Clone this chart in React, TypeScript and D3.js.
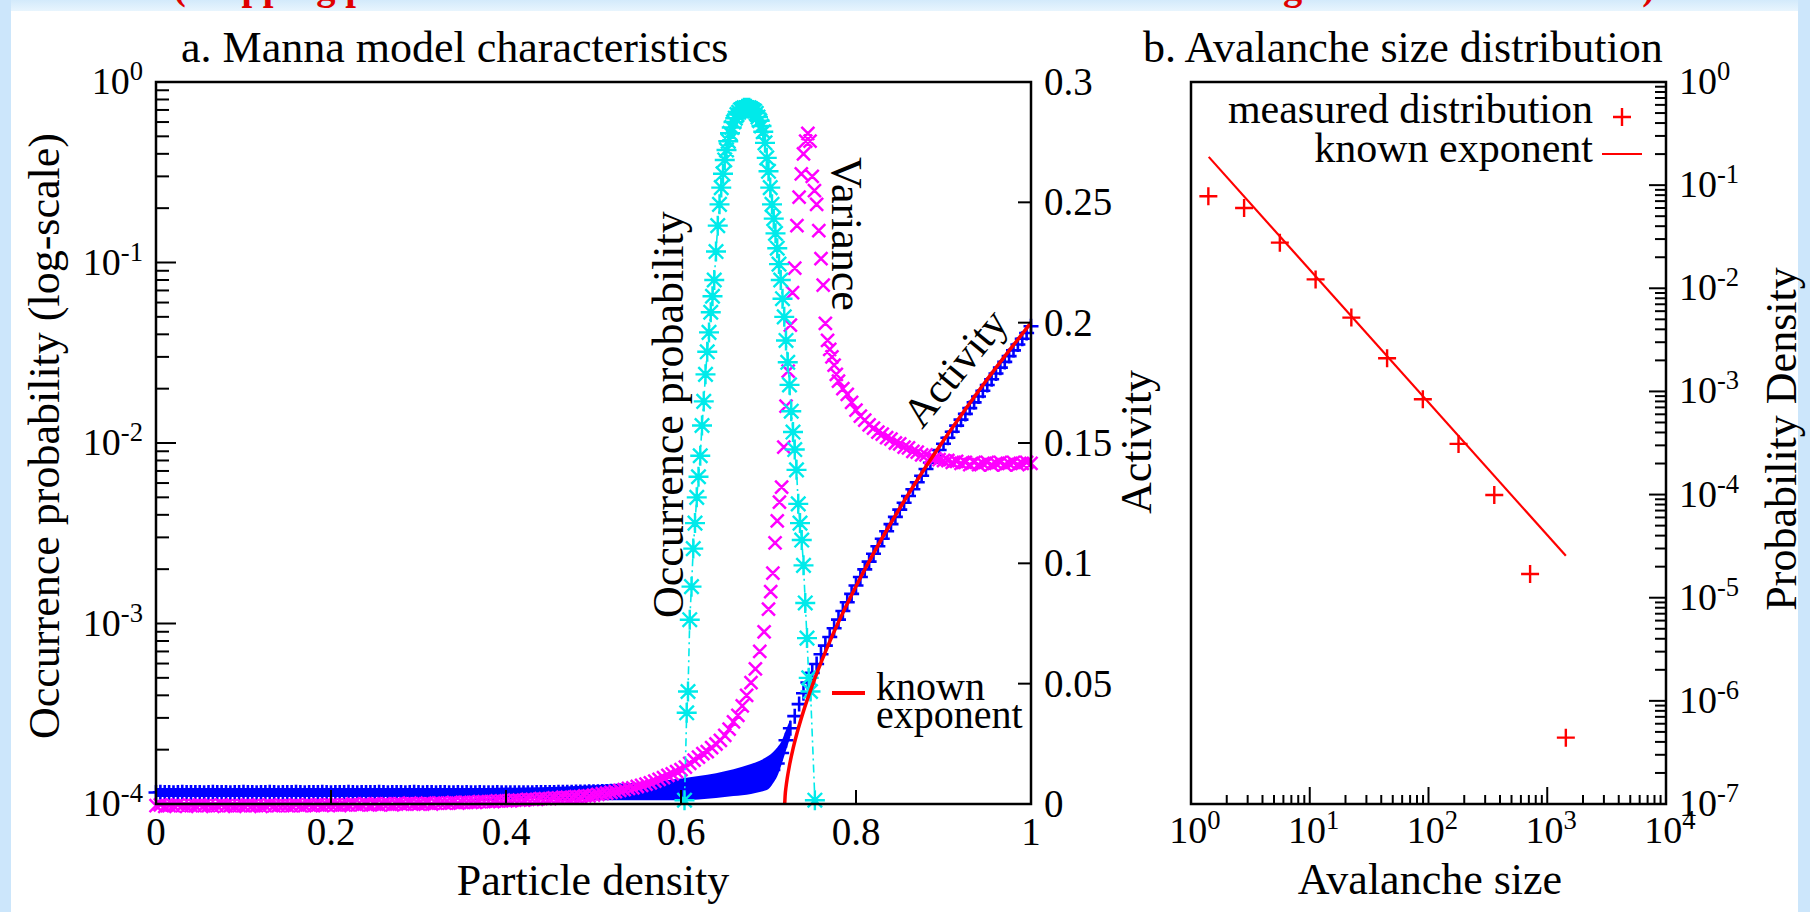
import React from "react";
import * as d3 from "d3";

const FONT = '"Liberation Serif","Times New Roman",Times,serif';

// ================= Panel a : Manna model characteristics =================
// Activity (blue +), particle-density grid
const density = [
  0,0.005,0.01,0.015,0.02,0.025,0.03,0.035,0.04,0.045,
  0.05,0.055,0.06,0.065,0.07,0.075,0.08,0.085,0.09,0.095,
  0.1,0.105,0.11,0.115,0.12,0.125,0.13,0.135,0.14,0.145,
  0.15,0.155,0.16,0.165,0.17,0.175,0.18,0.185,0.19,0.195,
  0.2,0.205,0.21,0.215,0.22,0.225,0.23,0.235,0.24,0.245,
  0.25,0.255,0.26,0.265,0.27,0.275,0.28,0.285,0.29,0.295,
  0.3,0.305,0.31,0.315,0.32,0.325,0.33,0.335,0.34,0.345,
  0.35,0.355,0.36,0.365,0.37,0.375,0.38,0.385,0.39,0.395,
  0.4,0.405,0.41,0.415,0.42,0.425,0.43,0.435,0.44,0.445,
  0.45,0.455,0.46,0.465,0.47,0.475,0.48,0.485,0.49,0.495,
  0.5,0.505,0.51,0.515,0.52,0.525,0.53,0.535,0.54,0.545,
  0.55,0.555,0.56,0.565,0.57,0.575,0.58,0.585,0.59,0.595,
  0.6,0.605,0.61,0.615,0.62,0.625,0.63,0.635,0.64,0.645,
  0.65,0.655,0.66,0.665,0.67,0.675,0.68,0.685,0.69,0.695,
  0.7,0.705,0.71,0.715,0.72,0.725,0.73,0.735,0.74,0.745,
  0.75,0.755,0.76,0.765,0.77,0.775,0.78,0.785,0.79,0.795,
  0.8,0.805,0.81,0.815,0.82,0.825,0.83,0.835,0.84,0.845,
  0.85,0.855,0.86,0.865,0.87,0.875,0.88,0.885,0.89,0.895,
  0.9,0.905,0.91,0.915,0.92,0.925,0.93,0.935,0.94,0.945,
  0.95,0.955,0.96,0.965,0.97,0.975,0.98,0.985,0.99,0.995,
  1
];
const activity = [
  0.0048,0.0049,0.0048,0.0048,0.0047,0.0048,0.0049,0.0048,0.0048,0.0048,
  0.0048,0.0047,0.0048,0.0049,0.0048,0.0048,0.0048,0.0047,0.0048,0.0048,
  0.0049,0.0048,0.0048,0.0047,0.0048,0.0048,0.0049,0.0048,0.0047,0.0048,
  0.0048,0.0048,0.0049,0.0048,0.0047,0.0048,0.0048,0.0048,0.0049,0.0048,
  0.0047,0.0048,0.0048,0.0048,0.0049,0.0048,0.0047,0.0048,0.0048,0.0048,
  0.0048,0.0049,0.0048,0.0047,0.0048,0.0048,0.0048,0.0047,0.0048,0.0049,
  0.0048,0.0047,0.0048,0.0048,0.0047,0.0048,0.0048,0.0047,0.0047,0.0048,
  0.0047,0.0048,0.0047,0.0047,0.0048,0.0047,0.0047,0.0047,0.0048,0.0047,
  0.0047,0.0047,0.0047,0.0047,0.0047,0.0047,0.0047,0.0048,0.0048,0.0048,
  0.0048,0.0048,0.0049,0.0049,0.0049,0.0049,0.0050,0.0050,0.0050,0.0051,
  0.0051,0.0051,0.0052,0.0052,0.0053,0.0053,0.0054,0.0054,0.0055,0.0055,
  0.0056,0.0056,0.0057,0.0057,0.0058,0.0058,0.0059,0.0059,0.0060,0.0061,
  0.0062,0.0063,0.0064,0.0065,0.0066,0.0067,0.0069,0.0070,0.0072,0.0074,
  0.0076,0.0078,0.0080,0.0083,0.0086,0.0089,0.0093,0.0098,0.0104,0.0112,
  0.0125,0.0142,0.0168,0.0212,0.0265,0.0315,0.0365,0.0415,0.0460,0.0505,
  0.0545,0.0582,0.0622,0.0658,0.0694,0.0730,0.0766,0.0802,0.0838,0.0873,
  0.0908,0.0943,0.0975,0.1007,0.1040,0.1071,0.1102,0.1133,0.1163,0.1193,
  0.1223,0.1252,0.1280,0.1308,0.1337,0.1364,0.1392,0.1418,0.1445,0.1471,
  0.1497,0.1522,0.1547,0.1572,0.1597,0.1621,0.1645,0.1669,0.1693,0.1717,
  0.1741,0.1765,0.1789,0.1813,0.1837,0.1861,0.1885,0.1909,0.1933,0.1957,
  0.1985
];
// error band of the activity (drawn as an area)
const bandX = [0,0.1,0.2,0.3,0.38,0.42,0.46,0.50,0.54,0.58,0.60,0.62,0.64,0.66,0.68,0.69,0.70,0.705,0.71,0.715,0.72,0.725];
const bandLow = [0.0029,0.0029,0.0029,0.0029,0.0028,0.0024,0.0018,0.0016,0.0016,0.0016,0.0016,0.0019,0.0025,0.0033,0.0042,0.0050,0.0062,0.0085,0.0115,0.0165,0.0222,0.0278];
const bandHigh = [0.0066,0.0066,0.0066,0.0066,0.0067,0.0069,0.0072,0.0078,0.0086,0.0098,0.0106,0.0116,0.0128,0.0144,0.0166,0.0180,0.0200,0.0215,0.0235,0.0262,0.0308,0.0352];

// Variance (magenta x), log axis
const varianceX = [
  0,0.005,0.01,0.015,0.02,0.025,0.03,0.035,0.04,0.045,
  0.05,0.055,0.06,0.065,0.07,0.075,0.08,0.085,0.09,0.095,
  0.1,0.105,0.11,0.115,0.12,0.125,0.13,0.135,0.14,0.145,
  0.15,0.155,0.16,0.165,0.17,0.175,0.18,0.185,0.19,0.195,
  0.2,0.205,0.21,0.215,0.22,0.225,0.23,0.235,0.24,0.245,
  0.25,0.255,0.26,0.265,0.27,0.275,0.28,0.285,0.29,0.295,
  0.3,0.305,0.31,0.315,0.32,0.325,0.33,0.335,0.34,0.345,
  0.35,0.355,0.36,0.365,0.37,0.375,0.38,0.385,0.39,0.395,
  0.4,0.405,0.41,0.415,0.42,0.425,0.43,0.435,0.44,0.445,
  0.45,0.455,0.46,0.465,0.47,0.475,0.48,0.485,0.49,0.495,
  0.5,0.505,0.51,0.515,0.52,0.525,0.53,0.535,0.54,0.545,
  0.55,0.555,0.56,0.565,0.57,0.575,0.58,0.585,0.59,0.595,
  0.6,0.605,0.61,0.615,0.62,0.625,0.63,0.635,0.64,0.645,
  0.65,0.655,0.66,0.665,0.67,0.675,0.68,0.685,0.69,0.695,
  0.7,
  0.7025,0.705,0.7075,0.71,0.7125,0.715,0.7175,0.72,0.7225,0.725,
  0.7275,0.73,0.7325,0.735,0.7375,0.74,0.7425,0.745,0.7475,0.75,
  0.7525,0.755,0.7575,0.76,0.7625,0.765,0.7675,0.77,0.7725,0.775,
  0.7775,0.78,
  0.785,0.79,0.795,0.8,0.805,0.81,0.815,0.82,0.825,0.83,
  0.835,0.84,0.845,0.85,0.855,0.86,0.865,0.87,0.875,0.88,
  0.885,0.89,0.895,0.9,0.905,0.91,0.915,0.92,0.925,0.93,
  0.935,0.94,0.945,0.95,0.955,0.96,0.965,0.97,0.975,0.98,
  0.985,0.99,0.995,1
];
const varianceY = [
  9.8e-5,9.9e-5,9.7e-5,9.8e-5,9.8e-5,9.9e-5,9.8e-5,9.7e-5,9.8e-5,9.8e-5,
  9.9e-5,9.8e-5,9.8e-5,9.7e-5,9.8e-5,9.9e-5,9.8e-5,9.8e-5,9.7e-5,9.8e-5,
  9.8e-5,9.9e-5,9.8e-5,9.8e-5,9.7e-5,9.8e-5,9.9e-5,9.8e-5,9.8e-5,9.8e-5,
  9.8e-5,9.8e-5,9.9e-5,9.8e-5,9.8e-5,9.9e-5,9.8e-5,9.9e-5,9.8e-5,9.9e-5,
  9.9e-5,9.9e-5,9.8e-5,9.9e-5,9.9e-5,1.0e-4,9.9e-5,9.9e-5,1.0e-4,9.9e-5,
  1.0e-4,9.9e-5,1.0e-4,1.0e-4,9.9e-5,1.0e-4,1.0e-4,1.0e-4,1.01e-4,1.0e-4,
  1.0e-4,1.0e-4,1.01e-4,1.0e-4,1.01e-4,1.01e-4,1.01e-4,1.01e-4,1.02e-4,1.01e-4,
  1.02e-4,1.02e-4,1.02e-4,1.02e-4,1.03e-4,1.03e-4,1.03e-4,1.03e-4,1.04e-4,1.04e-4,
  1.04e-4,1.04e-4,1.05e-4,1.05e-4,1.05e-4,1.06e-4,1.06e-4,1.06e-4,1.07e-4,1.07e-4,
  1.07e-4,1.08e-4,1.08e-4,1.09e-4,1.09e-4,1.09e-4,1.10e-4,1.10e-4,1.11e-4,1.11e-4,
  1.12e-4,1.13e-4,1.14e-4,1.15e-4,1.16e-4,1.17e-4,1.19e-4,1.20e-4,1.22e-4,1.23e-4,
  1.25e-4,1.27e-4,1.29e-4,1.31e-4,1.34e-4,1.37e-4,1.40e-4,1.44e-4,1.47e-4,1.51e-4,
  1.55e-4,1.60e-4,1.68e-4,1.75e-4,1.82e-4,1.90e-4,1.95e-4,2.05e-4,2.15e-4,2.25e-4,
  2.40e-4,2.60e-4,2.85e-4,3.10e-4,3.50e-4,4.00e-4,4.70e-4,5.60e-4,7.00e-4,9.00e-4,
  1.2e-3,
  0.0015,0.0019,0.0028,0.0037,0.0047,0.0057,0.0095,0.016,0.025,0.045,
  0.068,0.093,0.16,0.23,0.31,0.40,0.47,0.52,0.47,0.30,
  0.25,0.21,0.15,0.105,0.075,0.046,0.037,0.033,0.030,0.027,
  0.024,0.022,
  0.0200,0.0186,0.0168,0.0152,0.0141,0.0134,0.0126,0.0121,0.0115,0.0112,
  0.0107,0.0105,0.0100,0.0099,0.0095,0.0094,0.0090,0.0089,0.0086,0.0086,
  0.0083,0.0082,0.0081,0.0080,0.0080,0.0078,0.0079,0.0077,0.0078,0.0076,
  0.0078,0.0076,0.0077,0.0078,0.0076,0.0077,0.0078,0.0076,0.0077,0.0078,
  0.0076,0.0077,0.0078,0.0077
];

// Occurrence probability (cyan *, dash-dot), log axis
const occX = [
  0.604,0.6065,0.608,0.610,0.612,0.614,0.616,0.618,0.620,0.622,
  0.624,0.626,0.628,0.630,0.632,0.634,0.636,0.638,0.640,0.642,
  0.644,0.646,0.648,0.650,0.652,0.654,0.656,0.658,0.660,0.662,
  0.664,0.666,0.668,0.670,0.672,0.674,0.676,0.678,0.680,0.682,
  0.684,0.686,0.688,0.690,0.692,0.694,0.696,0.698,0.700,0.702,
  0.704,0.706,0.708,0.710,0.712,0.714,0.716,0.718,0.720,0.722,
  0.724,0.726,0.728,0.730,0.732,0.734,0.736,0.738,0.740,0.742,
  0.744,0.746,0.748,0.753
];
const occY = [
  1.05e-4,3.2e-4,4.2e-4,1.05e-3,1.6e-3,2.6e-3,3.6e-3,5.0e-3,6.5e-3,8.5e-3,
  0.0125,0.017,0.024,0.032,0.041,0.053,0.065,0.080,0.115,0.160,
  0.21,0.26,0.31,0.37,0.42,0.47,0.52,0.56,0.60,0.63,
  0.66,0.68,0.70,0.71,0.72,0.72,0.72,0.72,0.71,0.70,
  0.69,0.67,0.64,0.61,0.57,0.53,0.46,0.38,0.32,0.26,
  0.21,0.175,0.145,0.12,0.098,0.080,0.063,0.050,0.037,0.028,
  0.021,0.015,0.0115,0.0092,0.0071,0.0046,0.0036,0.0029,0.0021,0.0013,
  8.3e-4,5.0e-4,4.2e-4,1.05e-4
];

// known exponent curve (red), activity axis
const knownX = [0.7185,0.719,0.72,0.7215,0.724,0.728,0.733,0.74,0.75,0.765,0.78,0.80,0.825,0.85,0.875,0.90,0.925,0.95,0.975,1.0];
const knownY = [0,0.0035,0.0070,0.0109,0.0161,0.0229,0.0300,0.0386,0.0492,0.0632,0.0756,0.0905,0.1074,0.1229,0.1374,0.1510,0.1640,0.1765,0.1884,0.2000];

const xTicksA = [0, 0.2, 0.4, 0.6, 0.8, 1];
const xTickLabelsA = ["0", "0.2", "0.4", "0.6", "0.8", "1"];
const actTicks = [0, 0.05, 0.1, 0.15, 0.2, 0.25, 0.3];
const actTickLabels = ["0", "0.05", "0.1", "0.15", "0.2", "0.25", "0.3"];
const logExpA = [0, -1, -2, -3, -4];

// ================= Panel b : Avalanche size distribution =================
const avalancheSize = [1.4, 2.8, 5.6, 11.2, 22.4, 44.8, 89.6, 179, 358, 717, 1434];
const avalancheProb = [0.078, 0.060, 0.0277, 0.0122, 0.0052, 0.0021, 8.4e-4, 3.1e-4, 9.9e-5, 1.7e-5, 4.4e-7];
const fitSize = [1.41, 1434];
const fitProb = [0.188, 2.55e-5];
const logExpBx = [0, 1, 2, 3, 4];
const logExpBy = [0, -1, -2, -3, -4, -5, -6, -7];

// ---------- marker helpers ----------
const plusD = (x: number, y: number, s: number) =>
  `M${x - s},${y}H${x + s}M${x},${y - s}V${y + s}`;
const crossD = (x: number, y: number, s: number) =>
  `M${x - s},${y - s}L${x + s},${y + s}M${x - s},${y + s}L${x + s},${y - s}`;
const starD = (x: number, y: number, s: number) => plusD(x, y, s) + crossD(x, y, s * 0.72);

const isMajor = (t: number) => Math.abs(Math.log10(t) - Math.round(Math.log10(t))) < 1e-6;

function Pow10({ x, y, e, anchor, size = 38 }: { x: number; y: number; e: number; anchor: string; size?: number }) {
  return (
    <text x={x} y={y} textAnchor={anchor as any} fontSize={size}>
      10<tspan dy={-14} fontSize={size * 0.7}>{String(e)}</tspan>
    </text>
  );
}

export default function App() {
  const xA = d3.scaleLinear().domain([0, 1]).range([156, 1031]);
  const yL = d3.scaleLog().domain([1e-4, 1]).range([804, 82]);
  const yR = d3.scaleLinear().domain([0, 0.3]).range([804, 82]);
  const xB = d3.scaleLog().domain([1, 1e4]).range([1191, 1666]);
  const yB = d3.scaleLog().domain([1e-7, 1]).range([804, 82]);

  const aL = 156, aR = 1031, aT = 82, aB = 804;
  const bL = 1191, bR = 1666, bT = 82, bB = 804;

  const bandArea = d3.area<number>()
    .x((_, i) => xA(bandX[i]))
    .y0((_, i) => yR(bandLow[i]))
    .y1((_, i) => yR(bandHigh[i]))
    .curve(d3.curveMonotoneX)(bandX) || "";
  const bluePlus = density.map((d, i) => plusD(xA(d), yR(activity[i]), 7.5)).join("");
  const magCross = varianceX.map((d, i) => crossD(xA(d), yL(varianceY[i]), 6.5)).join("");
  const occLine = d3.line<number>().x((d) => xA(d)).y((_, i) => yL(occY[i]))(occX) || "";
  const occStars = occX.map((d, i) => starD(xA(d), yL(occY[i]), 10)).join("");
  const knownLine = d3.line<number>().x((d) => xA(d)).y((_, i) => yR(knownY[i])).curve(d3.curveMonotoneX)(knownX) || "";

  const avPlus = avalancheSize.map((s, i) => plusD(xB(s), yB(avalancheProb[i]), 9)).join("");
  const fitLine = d3.line<number>().x((d) => xB(d)).y((_, i) => yB(fitProb[i]))(fitSize) || "";

  const leftLogTicks = yL.ticks();
  const rightLogTicksB = yB.ticks();
  const bottomLogTicksB = xB.ticks();

  return (
    <svg width={1810} height={912} style={{ position: "absolute", left: 0, top: 0, display: "block" }}
      fontFamily={FONT} fill="#000">
      <defs>
        <linearGradient id="topg" x1="0" y1="0" x2="0" y2="1">
          <stop offset="0" stopColor="#d3eafb" />
          <stop offset="1" stopColor="#e8f5fe" />
        </linearGradient>
      </defs>
      <rect x={0} y={0} width={1810} height={912} fill="#ffffff" />
      <rect x={0} y={0} width={1810} height={11} fill="url(#topg)" />
      <rect x={0} y={0} width={11} height={912} fill="#cce6fb" />
      <rect x={1798} y={0} width={12} height={912} fill="#cce6fb" />
      <text x={173} y={-1} fontSize={40} fontWeight="bold" fill="#e00000" textLength={1482} lengthAdjust="spacingAndGlyphs">
        (Mapping parameter onto the critical state and the avalanche scaling of the Manna model)
      </text>

      {/* ================= panel a ================= */}
      <text x={181} y={62} fontSize={44}>a. Manna model characteristics</text>

      <path d={bandArea} fill="#0000ff" />
      <path d={bluePlus} stroke="#0000ff" strokeWidth={2.6} fill="none" />
      <path d={magCross} stroke="#ff00ff" strokeWidth={2.5} fill="none" />
      <path d={occLine} stroke="#00eaea" strokeWidth={1.6} strokeDasharray="8,4,2,4" fill="none" />
      <path d={occStars} stroke="#00eaea" strokeWidth={2.4} fill="none" />
      <path d={knownLine} stroke="#ff0000" strokeWidth={3.5} fill="none" />

      <rect x={aL} y={aT} width={aR - aL} height={aB - aT} fill="none" stroke="#000" strokeWidth={2.5} />
      {leftLogTicks.map((t, i) => (
        <line key={"lt" + i} x1={aL} x2={aL + (isMajor(t) ? 20 : 13)} y1={yL(t)} y2={yL(t)} stroke="#000" strokeWidth={2} />
      ))}
      {logExpA.map((e) => (
        <Pow10 key={"la" + e} x={143} y={yL(Math.pow(10, e)) + 12} e={e} anchor="end" />
      ))}
      {actTicks.map((t, i) => (
        <line key={"rt" + i} x1={aR - 13} x2={aR} y1={yR(t)} y2={yR(t)} stroke="#000" strokeWidth={2} />
      ))}
      {actTicks.map((t, i) => (
        <text key={"rl" + i} x={1044} y={yR(t) + 13} fontSize={39}>{actTickLabels[i]}</text>
      ))}
      {xTicksA.map((t, i) => (
        <line key={"bt" + i} x1={xA(t)} x2={xA(t)} y1={aB} y2={aB - 14} stroke="#000" strokeWidth={2} />
      ))}
      {xTicksA.map((t, i) => (
        <text key={"bl" + i} x={xA(t)} y={845} textAnchor="middle" fontSize={39}>{xTickLabelsA[i]}</text>
      ))}

      <text transform="translate(59,436) rotate(-90)" textAnchor="middle" fontSize={44}>Occurrence probability (log-scale)</text>
      <text transform="translate(1151,442) rotate(-90)" textAnchor="middle" fontSize={44}>Activity</text>
      <text x={593} y={895} textAnchor="middle" fontSize={44}>Particle density</text>

      <text transform="translate(683,618) rotate(-90)" fontSize={44}>Occurrence probability</text>
      <text transform="translate(832,157) rotate(90)" fontSize={44}>Variance</text>
      <text transform="translate(922,430) rotate(-50.5)" fontSize={42}>Activity</text>
      <line x1={832} x2={865} y1={693} y2={693} stroke="#ff0000" strokeWidth={4} />
      <text x={876} y={700} fontSize={40}>known</text>
      <text x={876} y={728} fontSize={40}>exponent</text>

      {/* ================= panel b ================= */}
      <text x={1143} y={62} fontSize={44}>b. Avalanche size distribution</text>

      <path d={fitLine} stroke="#ff0000" strokeWidth={2.2} fill="none" />
      <path d={avPlus} stroke="#ff0000" strokeWidth={2.4} fill="none" />

      <rect x={bL} y={bT} width={bR - bL} height={bB - bT} fill="none" stroke="#000" strokeWidth={2.5} />
      {rightLogTicksB.map((t, i) => (
        <line key={"brt" + i} x1={bR - (isMajor(t) ? 17 : 11)} x2={bR} y1={yB(t)} y2={yB(t)} stroke="#000" strokeWidth={2} />
      ))}
      {logExpBy.map((e) => (
        <Pow10 key={"bry" + e} x={1679} y={yB(Math.pow(10, e)) + 12} e={e} anchor="start" />
      ))}
      {bottomLogTicksB.map((t, i) => (
        <line key={"bbt" + i} x1={xB(t)} x2={xB(t)} y1={bB} y2={bB - (isMajor(t) ? 17 : 9)} stroke="#000" strokeWidth={2} />
      ))}
      {logExpBx.map((e) => (
        <Pow10 key={"bbx" + e} x={xB(Math.pow(10, e)) + 4} y={843} e={e} anchor="middle" />
      ))}

      <text transform="translate(1796,439) rotate(-90)" textAnchor="middle" fontSize={44}>Probability Density</text>
      <text x={1430} y={894} textAnchor="middle" fontSize={44}>Avalanche size</text>

      <text x={1593} y={123} textAnchor="end" fontSize={42}>measured distribution</text>
      <path d={plusD(1622, 117, 9)} stroke="#ff0000" strokeWidth={2.4} fill="none" />
      <text x={1593} y={162} textAnchor="end" fontSize={42}>known exponent</text>
      <line x1={1602} x2={1642} y1={154} y2={154} stroke="#ff0000" strokeWidth={2.2} />
    </svg>
  );
}
